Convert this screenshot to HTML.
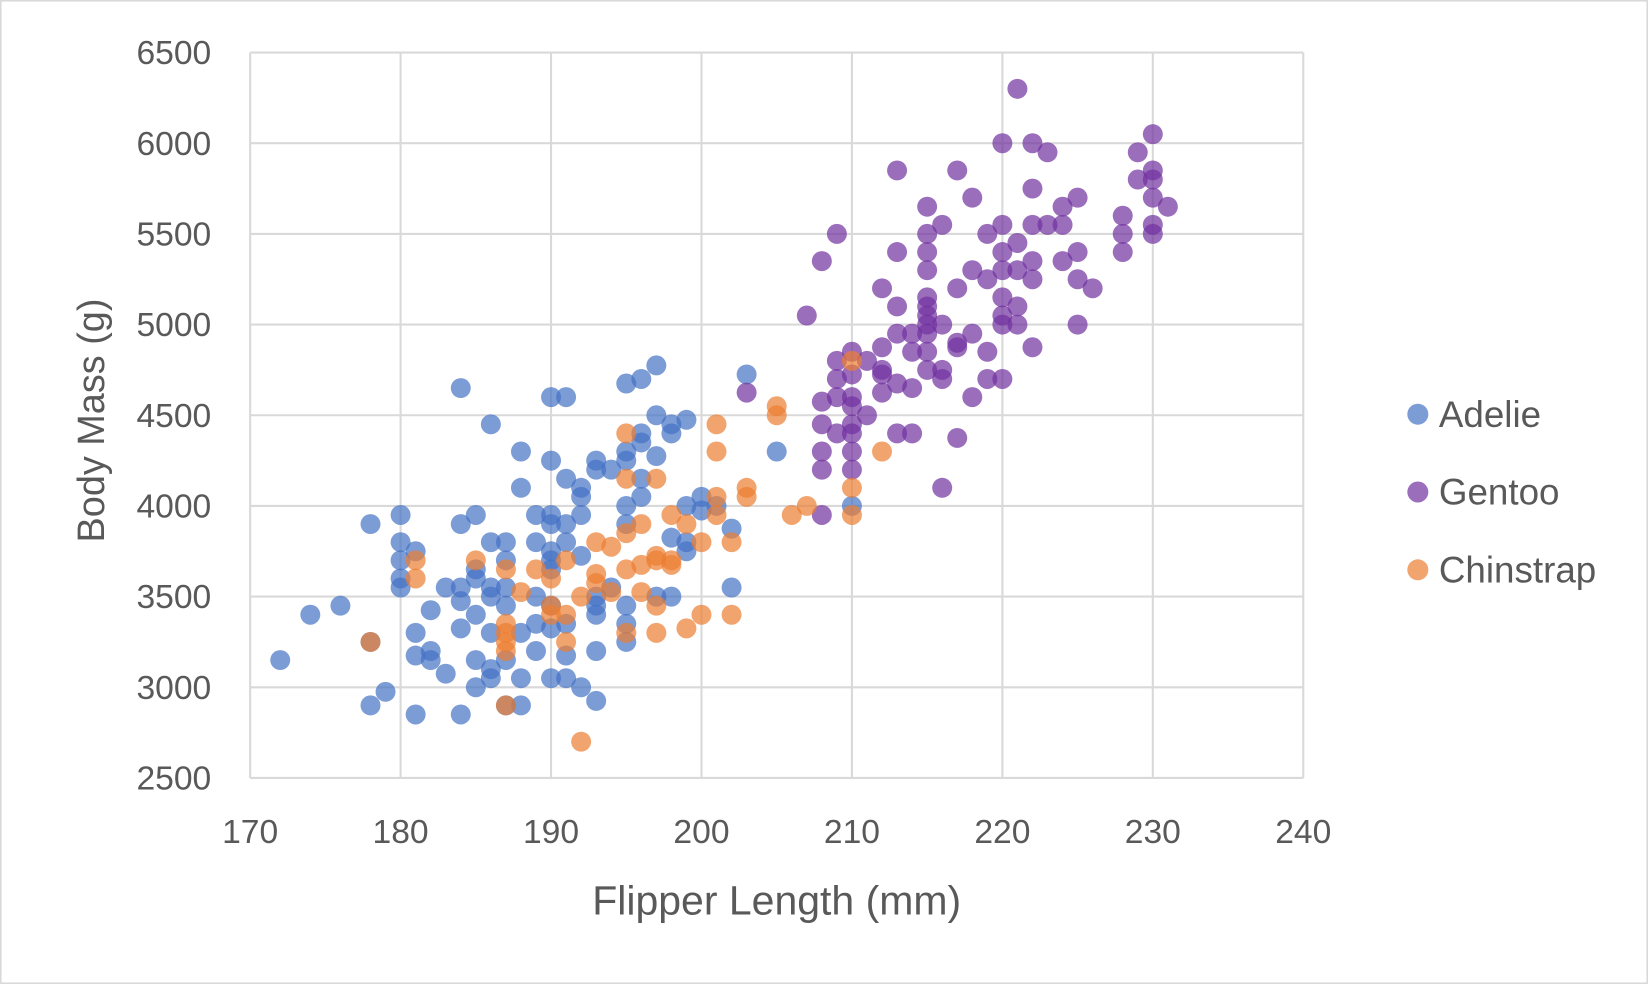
<!DOCTYPE html>
<html><head><meta charset="utf-8"><style>
html,body{margin:0;padding:0;background:#fff;}
svg{display:block;font-family:"Liberation Sans",sans-serif;}
</style></head><body>
<svg id="chart" width="1648" height="984" viewBox="0 0 1568 936" preserveAspectRatio="none" xmlns="http://www.w3.org/2000/svg">
<rect x="0.5" y="0.5" width="1567" height="935" fill="#fff" stroke="#d9d9d9" stroke-width="2"/>
<g id="grid"></g><g id="pts"></g><g id="ticks"></g>
<text x="739" y="870" text-anchor="middle" font-size="39" fill="#595959">Flipper Length (mm)</text>
<text transform="translate(99,400) rotate(-90)" text-anchor="middle" font-size="36" fill="#595959">Body Mass (g)</text>
<g id="legend"></g>
</svg>
<script>
const xTicks=[170,180,190,200,210,220,230,240];
const yTicks=[2500,3000,3500,4000,4500,5000,5500,6000,6500];
const seriesNames=["Adelie","Gentoo","Chinstrap"];
const seriesColors=["#4472C4","#7030A0","#ED7D31"];
const adelieFlipper=[172,174,176,178,178,178,179,180,180,180,180,180,181,181,181,181,182,182,182,183,183,184,184,184,184,184,184,185,185,185,185,185,185,186,186,186,186,186,186,186,187,187,187,187,187,187,188,188,188,188,188,189,189,189,189,189,190,190,190,190,190,190,190,190,190,190,191,191,191,191,191,191,191,192,192,192,192,192,193,193,193,193,193,193,193,194,194,195,195,195,195,195,195,195,195,196,196,196,196,196,197,197,197,197,198,198,198,198,199,199,199,199,200,200,201,202,202,203,205,210];
const adelieMass=[3150,3400,3450,3900,2900,3250,2975,3950,3800,3700,3600,3550,2850,3300,3175,3750,3425,3200,3150,3550,3075,4650,3900,3550,3475,3325,2850,3950,3650,3600,3400,3150,3000,4450,3800,3550,3500,3300,3100,3050,3800,3700,3550,3450,3150,2900,4300,4100,3300,3050,2900,3950,3800,3500,3350,3200,4600,4250,3950,3900,3750,3700,3650,3450,3325,3050,4600,4150,3900,3800,3350,3175,3050,4100,4050,3950,3725,3000,4250,4200,3500,3450,3400,3200,2925,4200,3550,4675,4300,4250,4000,3900,3450,3350,3250,4700,4400,4350,4150,4050,4775,4500,4275,3500,4450,4400,3825,3500,4475,4000,3800,3750,4050,3975,4000,3875,3550,4725,4300,4000];
const gentooFlipper=[203,207,208,208,208,208,208,208,209,209,209,209,209,210,210,210,210,210,210,210,210,211,211,212,212,212,212,212,213,213,213,213,213,213,214,214,214,214,215,215,215,215,215,215,215,215,215,215,215,216,216,216,216,216,217,217,217,217,217,218,218,218,218,219,219,219,219,220,220,220,220,220,220,220,220,221,221,221,221,221,222,222,222,222,222,222,223,223,224,224,224,225,225,225,225,226,228,228,228,229,229,230,230,230,230,230,230,231];
const gentooMass=[4625,5050,5350,4575,4450,4300,4200,3950,5500,4800,4700,4600,4400,4850,4725,4600,4550,4450,4400,4300,4200,4800,4500,5200,4875,4750,4725,4625,5850,5400,5100,4950,4675,4400,4950,4850,4650,4400,5650,5500,5400,5300,5150,5100,5050,5000,4950,4850,4750,5550,5000,4750,4700,4100,5850,5200,4900,4875,4375,5700,5300,4950,4600,5500,5250,4850,4700,6000,5550,5400,5300,5150,5050,5000,4700,6300,5450,5300,5100,5000,6000,5750,5550,5350,5250,4875,5950,5550,5650,5550,5350,5700,5400,5250,5000,5200,5600,5500,5400,5950,5800,6050,5850,5800,5700,5550,5500,5650];
const chinFlipper=[178,181,181,185,187,187,187,187,187,187,188,189,190,190,190,191,191,191,192,192,193,193,193,194,194,195,195,195,195,195,196,196,196,197,197,197,197,197,198,198,198,199,199,200,200,201,201,201,201,202,202,203,203,205,205,206,207,210,210,210,212];
const chinMass=[3250,3700,3600,3700,3650,3350,3300,3250,3200,2900,3525,3650,3600,3450,3400,3700,3400,3250,3500,2700,3800,3625,3575,3775,3525,4400,4150,3850,3650,3300,3900,3675,3525,4150,3725,3700,3450,3300,3950,3700,3675,3900,3325,3800,3400,4450,4300,4050,3950,3800,3400,4100,4050,4550,4500,3950,4000,4800,4100,3950,4300];
const NS="http://www.w3.org/2000/svg";
const X0=238,X1=1240,Y0=740,Y1=50;
function xs(v){return X0+(v-170)/(240-170)*(X1-X0);}
function ys(v){return Y0-(v-2500)/(6500-2500)*(Y0-Y1);}
function mk(tag,attrs,parent){const e=document.createElementNS(NS,tag);for(const k in attrs)e.setAttribute(k,attrs[k]);parent.appendChild(e);return e;}
const grid=document.getElementById('grid'),ticks=document.getElementById('ticks'),pts=document.getElementById('pts'),legend=document.getElementById('legend');
xTicks.forEach(t=>{
  const l=mk('line',{x1:xs(t),x2:xs(t),y1:Y1,y2:Y0,stroke:'#d9d9d9','stroke-width':2},grid);
  
  
  const tx=mk('text',{x:xs(t),y:Y0+62,'text-anchor':'middle','font-size':32,fill:'#595959'},ticks);
  tx.textContent=t;
  
  
});
yTicks.forEach(t=>{
  const l=mk('line',{x1:X0,x2:X1,y1:ys(t),y2:ys(t),stroke:'#d9d9d9','stroke-width':2},grid);
  
  
  const tx=mk('text',{x:201,y:ys(t)+11,'text-anchor':'end','font-size':32,fill:'#595959'},ticks);
  tx.textContent=t;
  
  
});
const series=[[adelieFlipper,adelieMass],[gentooFlipper,gentooMass],[chinFlipper,chinMass]];
series.forEach((s,i)=>{
  s[0].forEach((xv,j)=>{
    const c=mk('circle',{cx:xs(xv),cy:ys(s[1][j]),r:9.5,fill:seriesColors[i],'fill-opacity':0.7},pts);
    
    
  });
  const ly=394+i*74;
  const lc=mk('circle',{cx:1349,cy:ly,r:10,fill:seriesColors[i],'fill-opacity':0.7},legend);
  
  
  const lt=mk('text',{x:1369,y:ly+12,'font-size':35,fill:'#595959'},legend);
  lt.textContent=seriesNames[i];
  
  
});
</script>
</body></html>
